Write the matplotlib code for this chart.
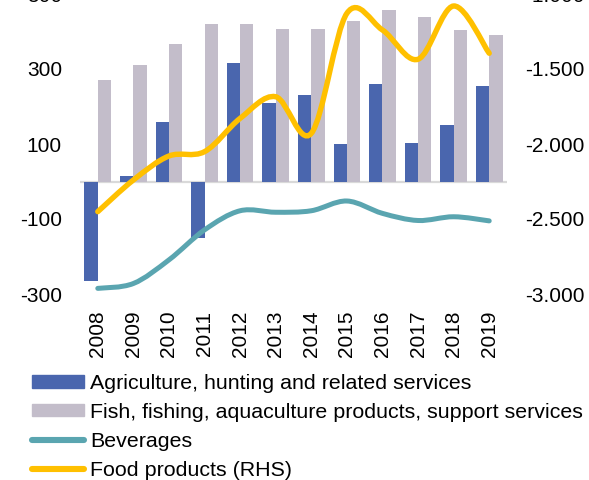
import matplotlib
matplotlib.use("Agg")
import matplotlib.pyplot as plt
import numpy as np
from matplotlib.path import Path
from matplotlib.patches import PathPatch, Patch
from matplotlib.lines import Line2D
from matplotlib.ticker import FuncFormatter

plt.rcParams['font.family'] = ['Liberation Sans', 'DejaVu Sans']
plt.rcParams['axes.unicode_minus'] = False

years = ['2008', '2009', '2010', '2011', '2012', '2013', '2014', '2015', '2016', '2017', '2018', '2019']
agriculture = [-265, 15, 159, -151, 317, 210, 231, 100, 260, 103, 150, 254]
fish = [272, 311, 367, 420, 420, 407, 408, 427, 458, 439, 404, 391]
beverages = [-285, -272, -209, -129, -78, -82, -78, -52, -85, -104, -94, -105]
food_rhs = [-2451, -2240, -2080, -2051, -1829, -1685, -1929, -1129, -1240, -1435, -1080, -1395]

labels = ['Agriculture, hunting and related services',
          'Fish, fishing, aquaculture products, support services',
          'Beverages',
          'Food products (RHS)']

c_blue = '#4A66AE'
c_grey = '#C3BDCA'
c_teal = '#5AA5B0'
c_yellow = '#FFC000'


def smooth_path(xs, ys):
    # excel-like smoothed line as bezier segments
    verts = [(xs[0], ys[0])]
    codes = [Path.MOVETO]
    n = len(xs)
    for i in range(n - 1):
        a = i - 1 if i > 0 else i
        b = i + 2 if i + 2 < n else i + 1
        c1 = (xs[i] + (xs[i + 1] - xs[a]) / 6, ys[i] + (ys[i + 1] - ys[a]) / 6)
        c2 = (xs[i + 1] - (xs[b] - xs[i]) / 6, ys[i + 1] - (ys[b] - ys[i]) / 6)
        verts += [c1, c2, (xs[i + 1], ys[i + 1])]
        codes += [Path.CURVE4] * 3
    return Path(verts, codes)


fig = plt.figure(figsize=(5.89, 4.8), dpi=100)
ax = fig.add_axes([80 / 589, 0.3875, 427 / 589, 0.625])
ax2 = ax.twinx()

x = np.arange(len(years))
w = 0.375
ax.bar(x - w / 2, agriculture, w, color=c_blue, zorder=2)
ax.bar(x + w / 2, fish, w, color=c_grey, zorder=2)
ax.axhline(0, color='#D9D9D9', lw=1.6, zorder=1)

ax.add_patch(PathPatch(smooth_path(x, beverages), facecolor='none', edgecolor=c_teal,
                       lw=3.6, capstyle='round', zorder=3))
ax2.add_patch(PathPatch(smooth_path(x, food_rhs), facecolor='none', edgecolor=c_yellow,
                        lw=3.9, capstyle='round', zorder=3))

ax.set_xlim(-0.5, 11.5)
ax.set_ylim(-300, 500)
ax2.set_ylim(-3000, -1000)
ax.set_yticks([-300, -100, 100, 300, 500])
ax2.set_yticks([-3000, -2500, -2000, -1500, -1000])
ax2.yaxis.set_major_formatter(FuncFormatter(lambda v, p: f'{v:,.0f}'.replace(',', '.')))

ax.set_xticks(x)
ax.set_xticklabels(years, rotation=90)

for a in (ax, ax2):
    for s in a.spines.values():
        s.set_visible(False)
    a.tick_params(length=0, labelsize=15)
ax.tick_params(axis='y', pad=13)
ax2.tick_params(axis='y', pad=13)
ax.tick_params(axis='x', pad=12)

handles = [Patch(color=c_blue), Patch(color=c_grey),
           Line2D([], [], color=c_teal, lw=4.4, solid_capstyle='round'),
           Line2D([], [], color=c_yellow, lw=4.4, solid_capstyle='round')]
fig.legend(handles, labels, loc='upper left', bbox_to_anchor=(32 / 589, 1 - 374 / 480),
           frameon=False, fontsize=15.4, handlelength=2.45, handleheight=0.5,
           handletextpad=0.28, labelspacing=0.46, borderpad=0, borderaxespad=0)

fig.savefig('out.png', dpi=100)
